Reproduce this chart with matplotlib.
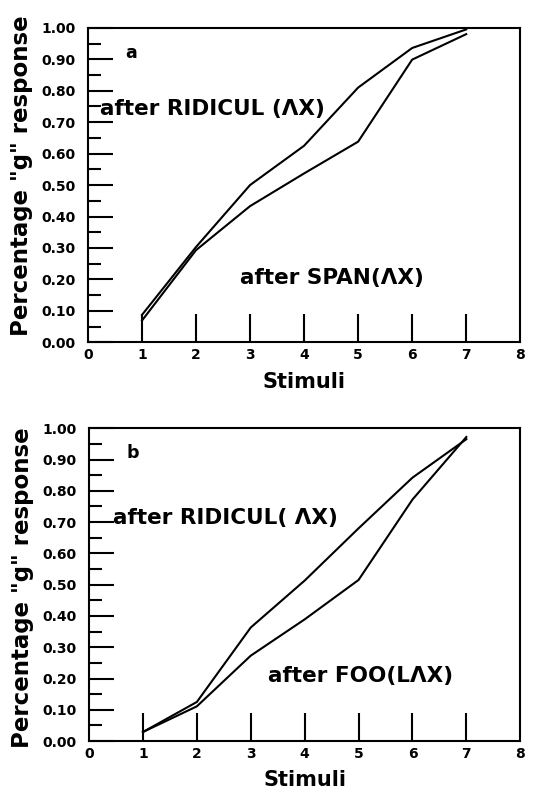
import matplotlib
matplotlib.use("Agg")
import matplotlib.pyplot as plt
from matplotlib.ticker import MultipleLocator

# data
stimuli = [1, 2, 3, 4, 5, 6, 7]
a_ridicul = [0.087, 0.303, 0.50, 0.625, 0.81, 0.936, 0.995]
a_span = [0.069, 0.293, 0.433, 0.537, 0.638, 0.899, 0.98]
b_ridicul = [0.029, 0.125, 0.363, 0.513, 0.68, 0.842, 0.965]
b_foo = [0.029, 0.111, 0.273, 0.389, 0.515, 0.772, 0.972]

panels = [
    ("a", a_ridicul, a_span, "after RIDICUL (\u039bX)", (0.22, 0.742),
     "after SPAN(\u039bX)", (2.81, 0.204), 0.53),
    ("b", b_ridicul, b_foo, "after RIDICUL( \u039bX)", (0.44, 0.712),
     "after FOO(L\u039bX)", (3.32, 0.208), 0.49),
]

plt.rcParams['font.family'] = 'DejaVu Sans'
fig = plt.figure(figsize=(5.6, 7.96), dpi=100)
rects = [[0.157, 0.570, 0.772, 0.395], [0.159, 0.069, 0.770, 0.393]]

for rect, (tag, upper, lower, lab1, pos1, lab2, pos2, ylab_y) in zip(rects, panels):
    ax = fig.add_axes(rect)
    ax.plot(stimuli, upper, color="black", lw=1.5)
    ax.plot(stimuli, lower, color="black", lw=1.5)
    ax.set_xlim(0, 8)
    ax.set_ylim(0, 1.0)
    ax.set_xticks(range(9))
    ax.set_yticks([i / 10 for i in range(11)])
    ax.set_yticklabels([f"{i / 10:.2f}" for i in range(11)])
    ax.yaxis.set_minor_locator(MultipleLocator(0.05))
    ax.tick_params(axis="y", which="major", direction="in", length=18,
                   width=1.5, labelsize=10, pad=9)
    ax.tick_params(axis="y", which="minor", direction="in", length=9, width=1.5)
    ax.tick_params(axis="x", direction="in", length=20, width=1.5,
                   labelsize=10, pad=4)
    # no visible tick marks at 0 and 8
    for t in (ax.xaxis.get_major_ticks()[0], ax.xaxis.get_major_ticks()[-1]):
        t.tick1line.set_visible(False)
    for lbl in ax.get_xticklabels() + ax.get_yticklabels():
        lbl.set_fontweight("bold")
    for sp in ax.spines.values():
        sp.set_linewidth(1.5)
    ax.set_xlabel("Stimuli", fontsize=15, fontweight="bold", labelpad=7)
    ax.set_ylabel('Percentage "g" response', fontsize=16.5, fontweight="bold")
    ax.yaxis.set_label_coords(-0.128, ylab_y)
    ax.text(0.70, 0.92, tag, fontsize=12.5, fontweight="bold", va="center")
    ax.text(pos1[0], pos1[1], lab1, fontsize=15.5, fontweight="bold", va="center")
    ax.text(pos2[0], pos2[1], lab2, fontsize=15.5, fontweight="bold", va="center")

fig.savefig("out.png", dpi=100)
